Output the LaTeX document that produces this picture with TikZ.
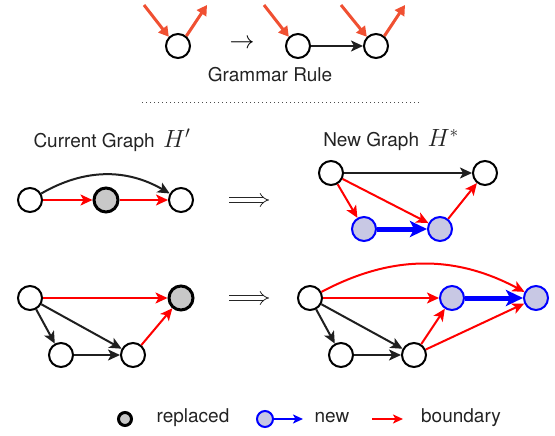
\documentclass[tikz,border=0pt]{standalone}
\usepackage{fontspec}
\setmainfont{TeX Gyre Heros}
\usetikzlibrary{arrows.meta}
\definecolor{ruleorange}{RGB}{240,80,50}
\definecolor{newfill}{RGB}{200,200,228}
\definecolor{repfill}{RGB}{200,200,200}
\definecolor{txt}{RGB}{35,35,35}
\begin{document}
\begin{tikzpicture}[x=1pt,y=1pt,
  vtx/.style={circle,draw=black,line width=2pt,minimum size=24pt,inner sep=0pt,fill=white},
  repl/.style={vtx,line width=3pt,fill=repfill},
  newv/.style={vtx,draw=blue,fill=newfill},
  blk/.style={draw=black!88,line width=2pt,-{Stealth[length=12pt,width=11pt,inset=3pt]}},
  bnd/.style={draw=red,line width=2pt,-{Stealth[length=12pt,width=11pt,inset=3pt]}},
  nedge/.style={draw=blue,line width=5pt,-{Stealth[length=17pt,width=16pt,inset=4pt]}},
  rul/.style={draw=ruleorange,line width=3pt,-{Triangle[length=10pt,width=11pt]}},
  lbl/.style={font=\fontsize{19}{22}\selectfont,text=txt,inner sep=0pt},
  impl/.style={draw=black!85,line width=0.8pt,double distance=4pt,-{Implies[length=6pt]}},
  impl/.style={inner sep=0pt,font=\fontsize{25}{25}\selectfont}
]
\tikzset{dimp/.style={draw=black!85,line width=0.8pt,double=white,double distance=4.2pt,-{Implies}}}
\useasboundingbox (0,0) rectangle (555,-436);

% Grammar rule
\node[vtx] (g1) at (178,-46) {};
\node[vtx] (g2) at (298,-46) {};
\node[vtx] (g3) at (376,-46) {};
\node[impl] (garr) at (242,-44) {$\rightarrow$};
\coordinate (g1in) at (144,-5);
\coordinate (g1out) at (207,-5);
\coordinate (g2in) at (264,-5);
\coordinate (g3in) at (341,-5);
\coordinate (g3out) at (405,-5);
\draw[rul] (g1in) -- (g1.135);
\draw[rul] (g1.50) -- (g1out);
\draw[rul] (g2in) -- (g2.135);
\draw[rul] (g3in) -- (g3.135);
\draw[rul] (g3.50) -- (g3out);
\draw[blk] (g2) -- (g3);
\node[lbl] (grule) at (270,-75) {Grammar Rule};
\coordinate (dl) at (142,-102);
\coordinate (dr) at (420,-102);
\draw[line width=0.8pt,dash pattern=on 0.8pt off 3.2pt,black!70] (dl) -- (dr);

% Current graph
\node[lbl] (cg) at (112,-140) {Current Graph\, {\fontsize{24}{24}\selectfont$H'$}};
\node[vtx] (a1) at (30,-200) {};
\node[repl] (a2) at (106,-200) {};
\node[vtx] (a3) at (181,-200) {};
\draw[blk] (a1) to[out=30,in=150] (a3);
\draw[bnd] (a1) -- (a2);
\draw[bnd] (a2) -- (a3);
\coordinate (i1l) at (229,-200);
\coordinate (i1r) at (269,-200);
\draw[dimp] (i1l) -- (i1r);

% New graph
\node[lbl] (ng) at (391,-140) {New Graph\, {\fontsize{24}{24}\selectfont$H^*$}};
\node[vtx] (b1) at (331,-173) {};
\node[vtx] (b2) at (485,-173) {};
\node[newv] (b3) at (364,-229) {};
\node[newv] (b4) at (440,-229) {};
\draw[blk] (b1) -- (b2);
\draw[bnd] (b1) -- (b3);
\draw[bnd] (b1) -- (b4);
\draw[nedge] (b3) -- (b4);
\draw[bnd] (b4) -- (b2);

% Row 2 left
\node[vtx] (p1) at (30,-298) {};
\node[repl] (p2) at (181,-298) {};
\node[vtx] (p3) at (61,-355) {};
\node[vtx] (p4) at (133,-355) {};
\draw[bnd] (p1) -- (p2);
\draw[blk] (p1) -- (p3);
\draw[blk] (p1) -- (p4);
\draw[blk] (p3) -- (p4);
\draw[bnd] (p4) -- (p2);
\coordinate (i2l) at (229,-298);
\coordinate (i2r) at (269,-298);
\draw[dimp] (i2l) -- (i2r);

% Row 2 right
\node[vtx] (q1) at (310,-298) {};
\node[newv] (q2) at (452,-298) {};
\node[newv] (q3) at (536,-298) {};
\node[vtx] (q4) at (341,-355) {};
\node[vtx] (q5) at (414,-355) {};
\draw[bnd] (q1) to[out=28,in=152] (q3);
\draw[bnd] (q1) -- (q2);
\draw[nedge] (q2) -- (q3);
\draw[blk] (q1) -- (q4);
\draw[blk] (q1) -- (q5);
\draw[blk] (q4) -- (q5);
\draw[bnd] (q5) -- (q2);
\draw[bnd] (q5) -- (q3);

% Legend
\node[circle,draw=black,line width=3pt,fill=repfill,minimum size=13pt,inner sep=0pt] (lr) at (125,-419) {};
\node[lbl] (lrt) at (193,-418) {replaced};
\node[circle,draw=blue,line width=2pt,fill=newfill,minimum size=16pt,inner sep=0pt] (ln) at (265,-419) {};
\coordinate (lne) at (303,-419);
\draw[draw=blue,line width=2pt,-{Stealth[length=10pt,width=9pt,inset=2.5pt]}] (ln) -- (lne);
\node[lbl] (lnt) at (332,-418) {new};
\coordinate (lbs) at (372,-419);
\coordinate (lbe) at (403,-419);
\draw[draw=red,line width=2pt,-{Stealth[length=10pt,width=9pt,inset=2.5pt]}] (lbs) -- (lbe);
\node[lbl] (lbt) at (461,-418) {boundary};
\end{tikzpicture}
\end{document}
